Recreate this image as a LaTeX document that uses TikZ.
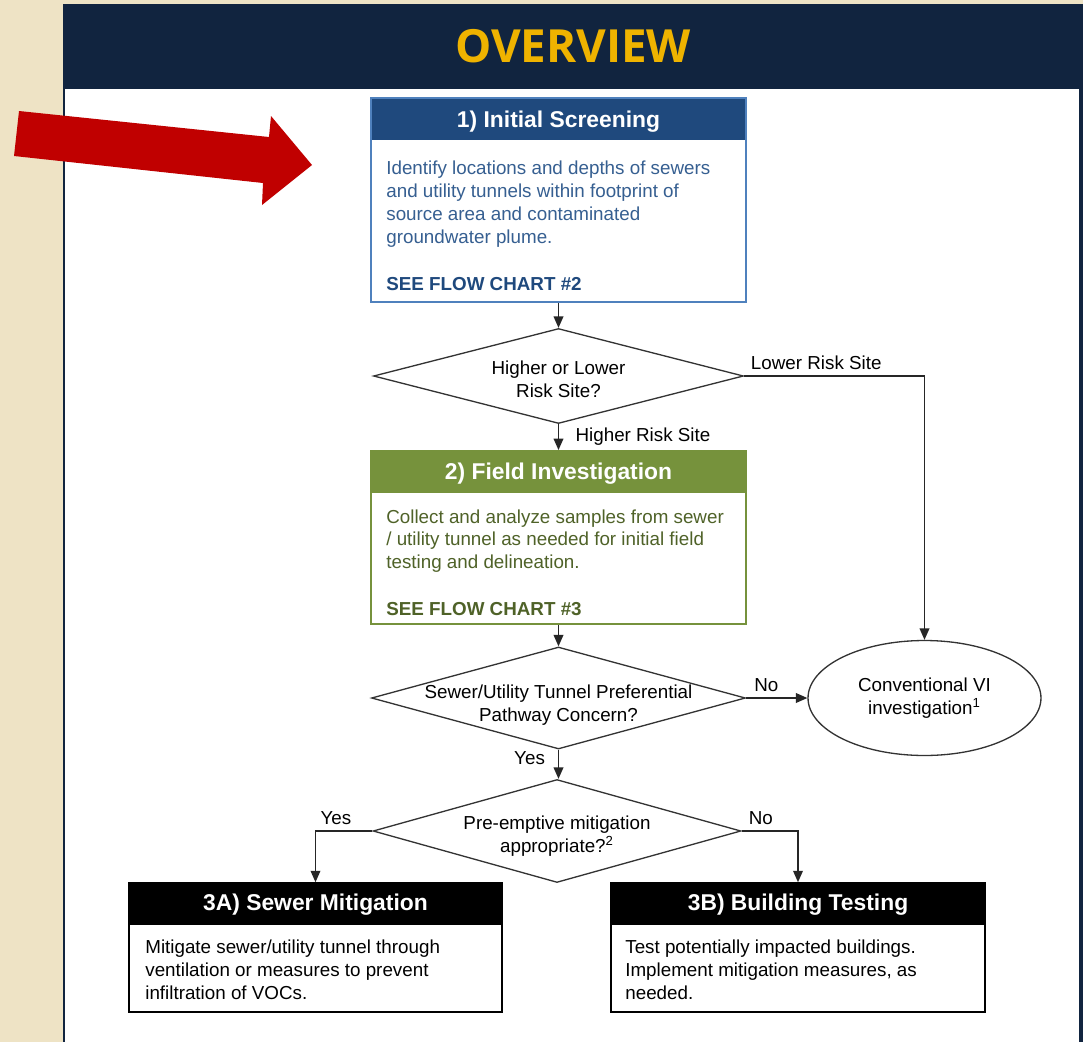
\documentclass[tikz,border=0pt]{standalone}
\usepackage{fontspec}
\setmainfont{Liberation Sans}
\newfontfamily\bannerfont{Open Sans}
\usetikzlibrary{arrows.meta, positioning, shapes.geometric}
\definecolor{pagebeige}{HTML}{EEE3C5}
\definecolor{navy}{HTML}{11243F}
\definecolor{gold}{HTML}{EFB300}
\definecolor{bluehead}{HTML}{1F497D}
\definecolor{blueline}{HTML}{4F81BD}
\definecolor{bluetext}{HTML}{365F91}
\definecolor{greenhead}{HTML}{76923C}
\definecolor{greentext}{HTML}{4F6228}
\definecolor{redarrow}{HTML}{C00000}
\newcommand{\bodysize}{\fontsize{10.7}{13}\selectfont}
\tikzset{
  stage/.style 2 args={draw=#1, line width=1.1pt, fill=white, inner sep=0pt,
    minimum width=7.5cm,
    path picture={\fill[#2] (path picture bounding box.north west)
      rectangle ([yshift=-0.84cm]path picture bounding box.north east);}},
  stagetitle/.style={text=white, font=\fontsize{13}{15}\selectfont\bfseries,
    text height=9pt, text depth=2.5pt},
  stagebody/.style={anchor=west, align=left, inner sep=0pt},
  seechart/.style={anchor=west, inner sep=0pt, font=\bodysize\bfseries},
  decision/.style={diamond, draw=black!80, line width=0.75pt, inner sep=0pt},
  flow/.style={->, draw=black!85, line width=0.8pt}
}

\begin{document}
\begin{tikzpicture}[x=0.02cm, y=-0.02cm, >={Triangle[length=6.5pt,width=5.5pt]}, font=\bodysize]
  \useasboundingbox (0,0) rectangle (1083,1042);
  % page and banner
  \fill[pagebeige] (0,0) rectangle (1083,1042);
  \fill[navy] (63,4) rectangle (1083,1042);
  \fill[white] (64.5,89) rectangle (1079,1042);
  \node[text=gold, font=\bannerfont\fontsize{26}{30}\selectfont\bfseries] (banner) at (573,46) {OVERVIEW};
  \fill[redarrow] (19,111) -- (269,137) -- (271,116) -- (312,165) -- (262,205) -- (263,183) -- (14,156) -- cycle;

  % stage 1
  \node[stage={blueline}{bluehead}, minimum height=4.08cm] (s1) at (558.5,200) {};
  \node[stagetitle] (s1t) at ([yshift=-0.5cm]s1.north) {1) Initial Screening};
  \node[stagebody, text=bluetext] (s1body) at (386,204) {Identify locations and depths of sewers\\and utility tunnels within footprint of\\source area and contaminated\\groundwater plume.};
  \node[seechart, text=bluehead] (s1ref) at (386,284) {SEE FLOW CHART \#2};

  \node[decision, minimum width=7.4cm, minimum height=1.9cm,
    label={[align=center, yshift=-2pt]center:{Higher or Lower\\Risk Site?}}] (q1) at (558.5,376) {};

  % stage 2
  \node[stage={greenhead}{greenhead}, minimum height=3.46cm] (s2) at (558.5,537.5) {};
  \node[stagetitle] (s2t) at ([yshift=-0.48cm]s2.north) {2) Field Investigation};
  \node[stagebody, text=greentext] (s2body) at (386,541) {Collect and analyze samples from sewer\\/ utility tunnel as needed for initial field\\testing and delineation.};
  \node[seechart, text=greentext] (s2ref) at (386,609) {SEE FLOW CHART \#3};

  \node[decision, minimum width=7.48cm, minimum height=2.04cm,
    label={[align=center, yshift=-4pt]center:{Sewer/Utility Tunnel Preferential\\Pathway Concern?}}] (q2) at (558.5,698) {};
  \node[ellipse, draw=black!80, line width=0.75pt, minimum width=4.66cm, minimum height=2.3cm, align=center] (e1) at (924.5,698) {Conventional VI\\investigation\textsuperscript{1}};

  \node[decision, minimum width=7.36cm, minimum height=2.06cm,
    label={[align=center, yshift=-3pt]center:{Pre-emptive mitigation\\appropriate?\textsuperscript{2}}}] (q3) at (557,831) {};

  % stage 3
  \node[stage={black}{black}, line width=0.9pt, minimum width=7.46cm, minimum height=2.58cm] (s3a) at (315.5,947.5) {};
  \node[stagetitle] (s3at) at ([yshift=-0.46cm]s3a.north) {3A) Sewer Mitigation};
  \node[stagebody] (s3abody) at (145,970) {Mitigate sewer/utility tunnel through\\ventilation or measures to prevent\\infiltration of VOCs.};
  \node[stage={black}{black}, line width=0.9pt, minimum width=7.48cm, minimum height=2.58cm] (s3b) at (798,947.5) {};
  \node[stagetitle] (s3bt) at ([yshift=-0.46cm]s3b.north) {3B) Building Testing};
  \node[stagebody] (s3bbody) at (625,970) {Test potentially impacted buildings.\\Implement mitigation measures, as\\needed.};

  % connectors
  \draw[flow] (s1.south) -- (q1.north);
  \draw[flow] (q1.east) -| node[pos=0.2, above] {Lower Risk Site} (e1.north);
  \draw[flow] (q1.south) -- node[right=6pt] {Higher Risk Site} (s2.north);
  \draw[flow] (s2.south) -- (q2.north);
  \draw[flow] (q2.east) -- node[pos=0.33, above] {No} (e1.west);
  \draw[flow] (q2.south) -- node[pos=0.3, left=4pt] {Yes} (q2.south |- q3.north);
  \draw[flow] (q3.west) -| node[pos=0.32, above] {Yes} (s3a.north);
  \draw[flow] (q3.east) -| node[pos=0.17, above] {No} (s3b.north);
\end{tikzpicture}
\end{document}
